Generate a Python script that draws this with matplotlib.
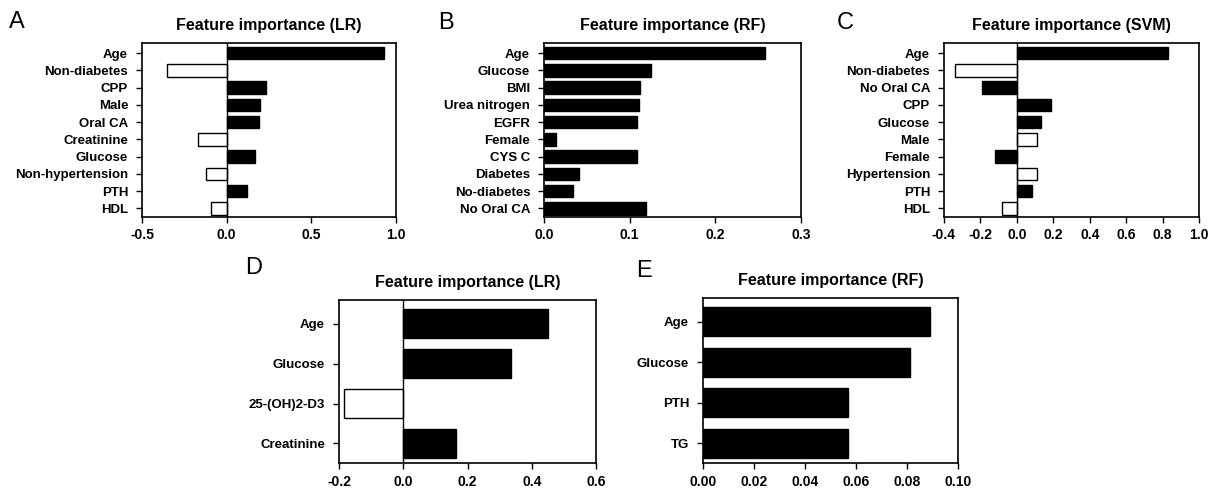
import matplotlib

matplotlib.use("Agg")
import matplotlib.pyplot as plt

plt.rcParams["font.family"] = ["Liberation Sans", "DejaVu Sans"]

# panel A: LR
a_labels = ["Age", "Non-diabetes", "CPP", "Male", "Oral CA", "Creatinine",
            "Glucose", "Non-hypertension", "PTH", "HDL"]
a_values = [0.93, -0.35, 0.23, 0.195, 0.19, -0.17, 0.17, -0.12, 0.12, -0.09]
a_filled = [True, False, True, True, True, False, True, False, True, False]

# panel B: RF
b_labels = ["Age", "Glucose", "BMI", "Urea nitrogen", "EGFR", "Female",
            "CYS C", "Diabetes", "No-diabetes", "No Oral CA"]
b_values = [0.258, 0.125, 0.112, 0.111, 0.109, 0.014, 0.108, 0.041, 0.034, 0.119]
b_filled = [True] * 10

# panel C: SVM
c_labels = ["Age", "Non-diabetes", "No Oral CA", "CPP", "Glucose", "Male",
            "Female", "Hypertension", "PTH", "HDL"]
c_values = [0.83, -0.34, -0.19, 0.19, 0.13, 0.11, -0.12, 0.11, 0.085, -0.08]
c_filled = [True, False, True, True, True, False, True, False, True, False]

# panel D: LR (reduced)
d_labels = ["Age", "Glucose", "25-(OH)2-D3", "Creatinine"]
d_values = [0.45, 0.335, -0.185, 0.165]
d_filled = [True, True, False, True]

# panel E: RF (reduced)
e_labels = ["Age", "Glucose", "PTH", "TG"]
e_values = [0.089, 0.081, 0.057, 0.057]
e_filled = [True] * 4

panels = [
    ("Feature importance (LR)", a_labels, a_values, a_filled,
     (-0.5, 1.0), [-0.5, 0.0, 0.5, 1.0], "{:.1f}", [0.1175, 0.559, 0.210, 0.354], True),
    ("Feature importance (RF)", b_labels, b_values, b_filled,
     (0.0, 0.3), [0.0, 0.1, 0.2, 0.3], "{:.1f}", [0.450, 0.559, 0.2126, 0.354], False),
    ("Feature importance (SVM)", c_labels, c_values, c_filled,
     (-0.4, 1.0), [-0.4, -0.2, 0.0, 0.2, 0.4, 0.6, 0.8, 1.0], "{:.1f}",
     [0.7808, 0.559, 0.211, 0.354], True),
    ("Feature importance (LR)", d_labels, d_values, d_filled,
     (-0.2, 0.6), [-0.2, 0.0, 0.2, 0.4, 0.6], "{:.1f}", [0.2804, 0.058, 0.2126, 0.333], True),
    ("Feature importance (RF)", e_labels, e_values, e_filled,
     (0.0, 0.10), [0.0, 0.02, 0.04, 0.06, 0.08, 0.10], "{:.2f}",
     [0.5815, 0.058, 0.211, 0.337], False),
]

fig = plt.figure(figsize=(12.09, 4.92), dpi=100)

for title, labels, values, filled, xlim, xticks, fmt, rect, zero_line in panels:
    ax = fig.add_axes(rect)
    n = len(labels)
    ys = list(range(n))
    colors = ["black" if f else "white" for f in filled]
    ax.barh(ys, values, height=0.72, color=colors, edgecolor="black", linewidth=1.0)
    if zero_line:
        ax.axvline(0, color="black", linewidth=1.0)
    ax.set_xlim(*xlim)
    ax.set_ylim(n - 0.5, -0.6)
    ax.set_yticks(ys)
    ax.set_yticklabels(labels, fontsize=9.5, fontweight="bold")
    ax.set_xticks(xticks)
    ax.set_xticklabels([fmt.format(t) for t in xticks], fontsize=10, fontweight="bold")
    ax.tick_params(direction="out", length=4, width=1.0)
    ax.tick_params(axis="y", pad=6)
    ax.tick_params(axis="x", pad=4)
    for sp in ax.spines.values():
        sp.set_linewidth(1.2)
    ax.set_title(title, fontsize=11.5, fontweight="bold", pad=9)

# panel letters
letter_pos = {"A": (0.007, 0.978), "B": (0.362, 0.975), "C": (0.692, 0.975),
              "D": (0.203, 0.478), "E": (0.526, 0.472)}
for letter, (x, y) in letter_pos.items():
    fig.text(x, y, letter, fontsize=17, va="top", ha="left")

fig.savefig("out.png", dpi=100)
